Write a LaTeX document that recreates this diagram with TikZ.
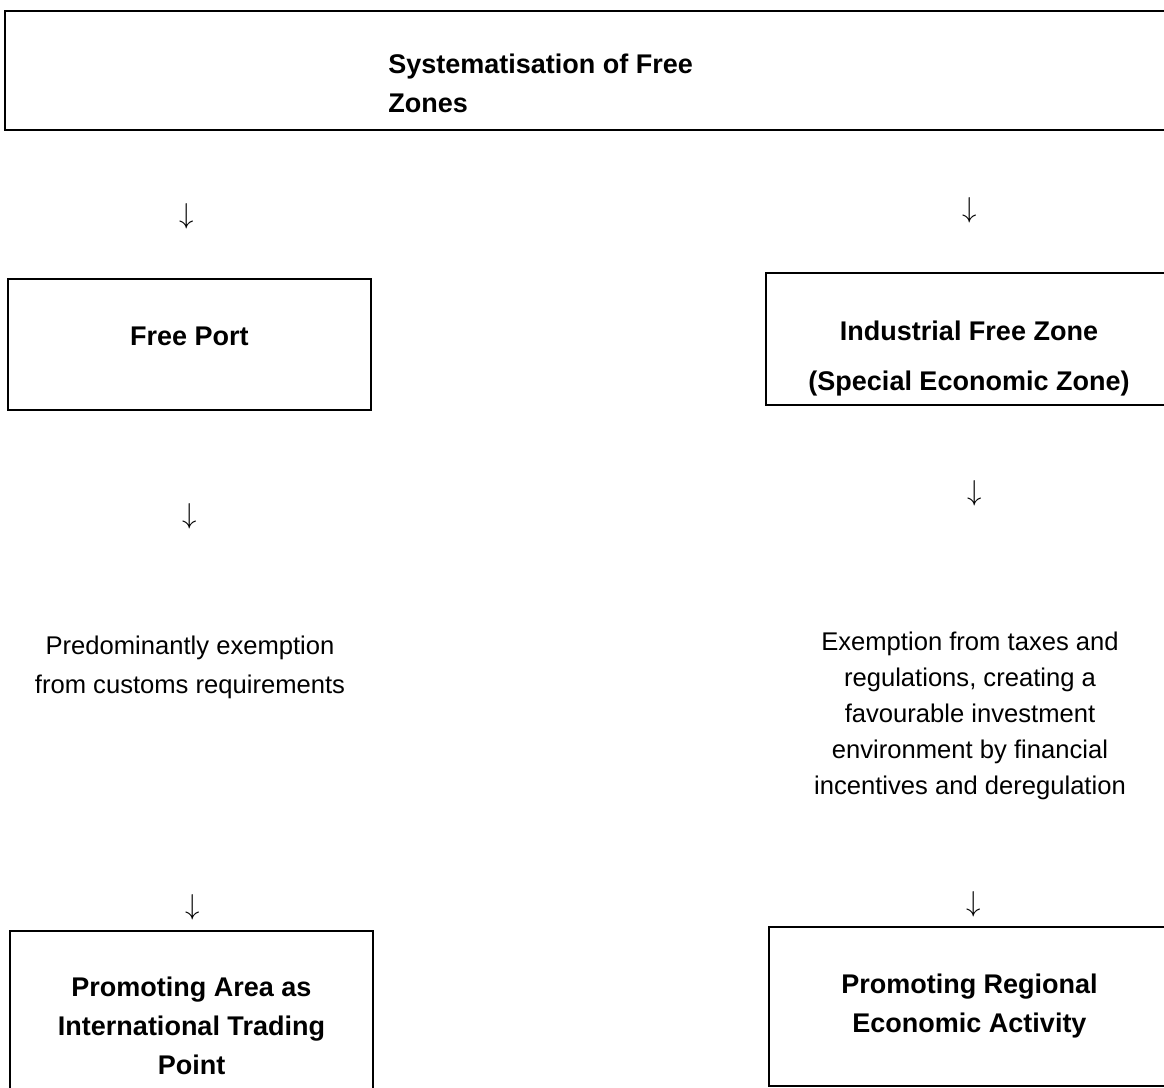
\documentclass[tikz,border=0pt]{standalone}
\usepackage{fontspec}
\setmainfont{Liberation Sans}
\usetikzlibrary{positioning}
\tikzset{
x=0.5pt, y=-0.5pt,
box/.style={draw, line width=1pt, inner sep=0pt},
title/.style={font=\fontsize{13.5}{19.5}\selectfont\bfseries, align=center, inner sep=0pt},
note/.style={font=\fontsize{12.8}{18}\selectfont, align=center, inner sep=0pt},
down/.style={font=\fontsize{14}{14}\selectfont, inner sep=0pt},
}
\begin{document}
\begin{tikzpicture}

    \useasboundingbox (0,0) rectangle (1164,1088);

    \node[box, minimum width=587.5pt, minimum height=59.5pt] (zones) at (592.5,70.5) {};
    \node[title, align=left, anchor=west] (zonestext) at (388,83.5) {Systematisation of Free\\Zones};

    \node[down] (d1) at (187,216) {$\downarrow$};
    \node[down] (d2) at (970,210) {$\downarrow$};

    \node[box, minimum width=181.5pt, minimum height=65.5pt] (port) at (189.5,344.5) {};
    \node[title] (porttext) at (189.5,336) {Free Port};
    \node[box, minimum width=203pt, minimum height=66pt] (industrial) at (969,339) {};
    \node[title, font=\fontsize{13.5}{25}\selectfont\bfseries] (industrialtext) at (969,359) {Industrial Free Zone\\(Special Economic Zone)};

    \node[down] (d3) at (190,516) {$\downarrow$};
    \node[down] (d4) at (975,493) {$\downarrow$};

    \node[note, font=\fontsize{12.8}{19.5}\selectfont] (customs) at (190,667) {Predominantly exemption\\from customs requirements};
    \node[note] (taxes) at (970,716) {Exemption from taxes and\\regulations, creating a\\favourable investment\\environment by financial\\incentives and deregulation};

    \node[down] (d5) at (193,907) {$\downarrow$};
    \node[down] (d6) at (974,904) {$\downarrow$};

    \node[box, minimum width=181.5pt, minimum height=95pt] (trading) at (191.5,1026) {};
    \node[title] (tradingtext) at (191.5,1026) {Promoting Area as\\International Trading\\Point};
    \node[box, minimum width=200.5pt, minimum height=79.5pt] (regional) at (969.5,1006.5) {};
    \node[title] (regionaltext) at (969.5,1006.5) {Promoting Regional\\Economic Activity};

\end{tikzpicture}
\end{document}
